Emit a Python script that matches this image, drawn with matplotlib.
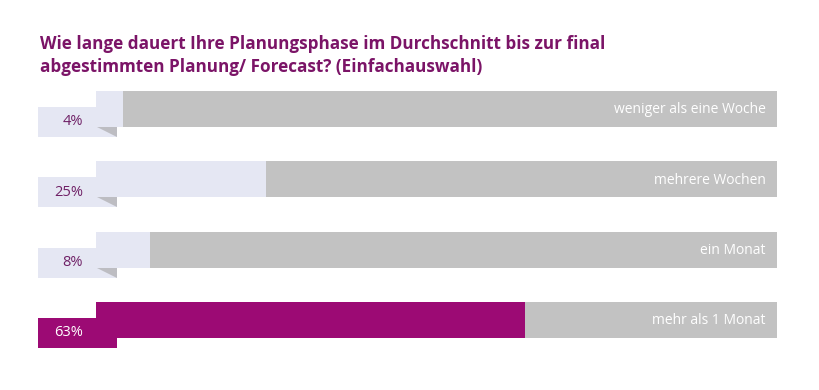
import matplotlib
matplotlib.use("Agg")
import matplotlib.pyplot as plt
from matplotlib.patches import Rectangle, Polygon

# ---- data ----
title_lines = ["Wie lange dauert Ihre Planungsphase im Durchschnitt bis zur final",
               "abgestimmten Planung/ Forecast? (Einfachauswahl)"]
categories = ["weniger als eine Woche", "mehrere Wochen", "ein Monat", "mehr als 1 Monat"]
values = [4, 25, 8, 63]
pct_labels = ["4%", "25%", "8%", "63%"]
highlight = [False, False, False, True]

# ---- style ----
GRAY = "#c2c2c2"
LIGHT = "#e5e7f3"
PURPLE = "#9c0a74"
FOLD = "#bdbdc2"
TITLE_C = "#7b1467"
PCT_C = "#6f2066"
FONT = ["Open Sans", "DejaVu Sans"]

W, H = 820, 390
fig = plt.figure(figsize=(W / 100, H / 100), dpi=100)
ax = fig.add_axes([0, 0, 1, 1])
ax.axis("off")

x0_px, x100_px = 96, 777
pxx = (x100_px - x0_px) / 100.0          # px per percent
yc0_px, dy_px = 109, 70.33               # first bar centre, spacing
ax.set_xlim(-x0_px / pxx, (W - x0_px) / pxx)
ax.set_ylim((H - yc0_px) / dy_px, -yc0_px / dy_px)

def py(p):  # pixels -> y data units
    return p / dy_px

def px(p):  # pixels -> x data units
    return p / pxx

bar_h = py(36)
ypos = list(range(len(categories)))

# background bars
ax.barh(ypos, [100] * len(ypos), height=bar_h, color=GRAY, zorder=1)
# value bars
ax.barh(ypos, values, height=bar_h,
        color=[PURPLE if h else LIGHT for h in highlight], zorder=2)

for y, lab, cat, h in zip(ypos, pct_labels, categories, highlight):
    fc = PURPLE if h else LIGHT
    # label tab
    bx0, bx1 = px(38 - x0_px), px(117 - x0_px)
    by0, by1 = y - py(2), y + py(28)
    ax.add_patch(Rectangle((bx0, by0), bx1 - bx0, by1 - by0, facecolor=fc,
                           edgecolor="none", zorder=3))
    # fold triangle
    if not h:
        ax.add_patch(Polygon([(px(1), y + py(18)), (bx1, y + py(18)), (bx1, y + py(28))],
                             closed=True, facecolor=FOLD, edgecolor="none", zorder=4))
    ax.text(px(83 - x0_px), y + py(13), lab, ha="right", va="center",
            fontsize=10.5, family=FONT, color="white" if h else PCT_C, zorder=5)
    ax.text(px(766 - x0_px), y + py(1), cat, ha="right", va="center",
            fontsize=10, family=FONT, color="white", zorder=5)

fig.text(40 / W, 1 - 49 / H, title_lines[0], ha="left", va="baseline",
         fontsize=12.3, fontweight="bold", family=FONT, color=TITLE_C)
fig.text(40 / W, 1 - 72 / H, title_lines[1], ha="left", va="baseline",
         fontsize=12.3, fontweight="bold", family=FONT, color=TITLE_C)

fig.savefig("out.png", dpi=100, facecolor="white")
